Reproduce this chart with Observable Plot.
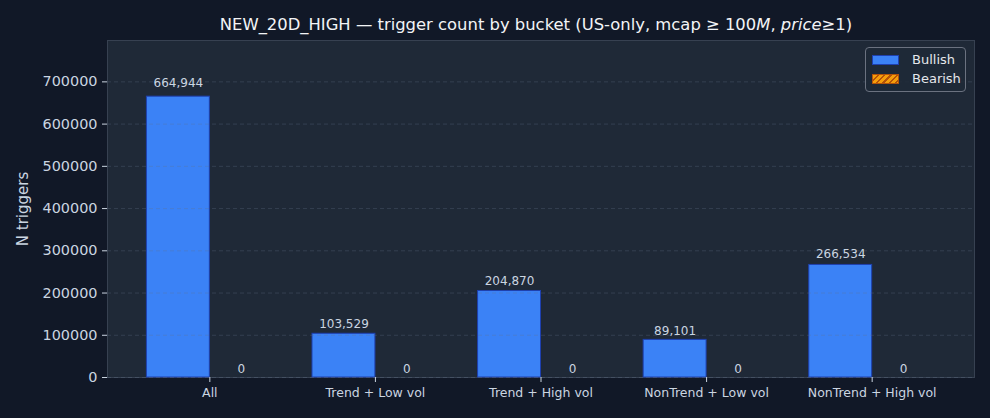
<!DOCTYPE html>
<html>
<head>
<meta charset="utf-8">
<script src="https://cdn.jsdelivr.net/npm/d3@7"></script>
<script src="https://cdn.jsdelivr.net/npm/@observablehq/plot@0.6"></script>
<style>
  html, body { margin: 0; padding: 0; background: #111827; }
  #wrap { position: relative; width: 990px; height: 418px; background: #111827; font-family: "DejaVu Sans", sans-serif; overflow: hidden; }
  #title { position: absolute; left: 0; top: 0; width: 990px; height: 40px; text-align: center; color: #f3f4f6; font-size: 16.4px; line-height: 16px; padding-top: 17px; box-sizing: border-box; padding-left: 82px; white-space: nowrap; }
  #chart { position: absolute; left: 0; top: 40px; }
  #legend { position: absolute; left: 865px; top: 47px; width: 101px; height: 45px; box-sizing: border-box; border: 1px solid #6b7280; border-radius: 4px; background: rgba(31,41,55,0.85); }
  .item { position: absolute; left: 6px; font-size: 13px; color: #e5e7eb; line-height: 13px; }
  .sw { position: absolute; left: 0; width: 27px; height: 10px; box-sizing: border-box; }
  .lab { position: absolute; left: 40px; top: -2px; white-space: nowrap; }
</style>
</head>
<body>
<div id="wrap">
  <div id="title">NEW_20D_HIGH — trigger count by bucket (US-only, mcap ≥ 100<i>M</i>, <i>price</i>≥1)</div>
  <div id="chart"></div>
  <div id="legend"></div>
</div>
<script>
const categories = ["All", "Trend + Low vol", "Trend + High vol", "NonTrend + Low vol", "NonTrend + High vol"];
const bullish = [664944, 103529, 204870, 89101, 266534];
const bearish = [0, 0, 0, 0, 0];
const seriesNames = ["Bullish", "Bearish"];
const seriesColors = ["#3b82f6", "#f59e0b"];
const yTicks = [0, 100000, 200000, 300000, 400000, 500000, 600000, 700000];

const barWidth = 0.38;
const rows = [];
categories.forEach((c, i) => {
  rows.push({cat: c, idx: i, series: "Bullish", value: bullish[i], x1: i - barWidth, x2: i});
  rows.push({cat: c, idx: i, series: "Bearish", value: bearish[i], x1: i, x2: i + barWidth});
});
const bull = rows.filter(d => d.series === "Bullish");
const bear = rows.filter(d => d.series === "Bearish");

const yMax = d3.max(bullish) * 1.2;

const plot = Plot.plot({
  width: 990,
  height: 378,
  marginTop: 0,
  marginBottom: 41,
  marginLeft: 107,
  marginRight: 16,
  style: {background: "transparent", fontFamily: "DejaVu Sans, sans-serif", color: "#cbd5e1"},
  x: {type: "linear", domain: [-barWidth - 0.238, categories.length - 1 + barWidth + 0.238], ticks: d3.range(categories.length), tickFormat: i => categories[i], label: null},
  y: {domain: [0, yMax], ticks: yTicks, tickFormat: d3.format("d"), label: null},
  marks: [
    Plot.frame({fill: "#1f2937", stroke: "#374151"}),
    Plot.rectY(bull, {x1: "x1", x2: "x2", y: "value", fill: seriesColors[0], stroke: "#1e40af", strokeWidth: 1}),
    Plot.rectY(bear, {x1: "x1", x2: "x2", y: "value", fill: seriesColors[1], stroke: "#b45309", strokeWidth: 1}),
    Plot.gridY(yTicks, {stroke: "#64748b", strokeOpacity: 0.3, strokeDasharray: "4,3"}),
    Plot.text(rows, {x: d => (d.x1 + d.x2) / 2, y: d => d.value * 1.02, text: d => d3.format(",")(d.value), lineAnchor: "bottom", dy: -4.5, fill: "#cbd5e1", fontSize: 12}),
    Plot.axisY({ticks: yTicks, tickFormat: d3.format("d"), tickSize: 5, tickPadding: 5, fontSize: 14.4, color: "#cbd5e1", stroke: "#cbd5e1", label: null}),
    Plot.axisX({ticks: d3.range(categories.length), tickFormat: i => categories[i], tickSize: 5, tickPadding: 6, fontSize: 12.5, color: "#cbd5e1", label: null}),
    Plot.text(["N triggers"], {frameAnchor: "left", textAnchor: "middle", dx: -84, rotate: -90, fontSize: 15, fill: "#cbd5e1"})
  ]
});
document.getElementById("chart").appendChild(plot);

const legend = document.getElementById("legend");
seriesNames.forEach((name, k) => {
  const item = document.createElement("div");
  item.className = "item";
  item.style.top = (k === 0 ? 7 : 26) + "px";
  const sw = document.createElement("div");
  sw.className = "sw";
  sw.style.background = k === 0 ? seriesColors[0] :
    `repeating-linear-gradient(135deg, ${seriesColors[1]} 0 3px, #b45309 3px 4.5px)`;
  sw.style.border = "1px solid " + (k === 0 ? "#1e40af" : "#b45309");
  const lab = document.createElement("span");
  lab.className = "lab";
  lab.textContent = name;
  item.appendChild(sw);
  item.appendChild(lab);
  legend.appendChild(item);
});
</script>
</body>
</html>
